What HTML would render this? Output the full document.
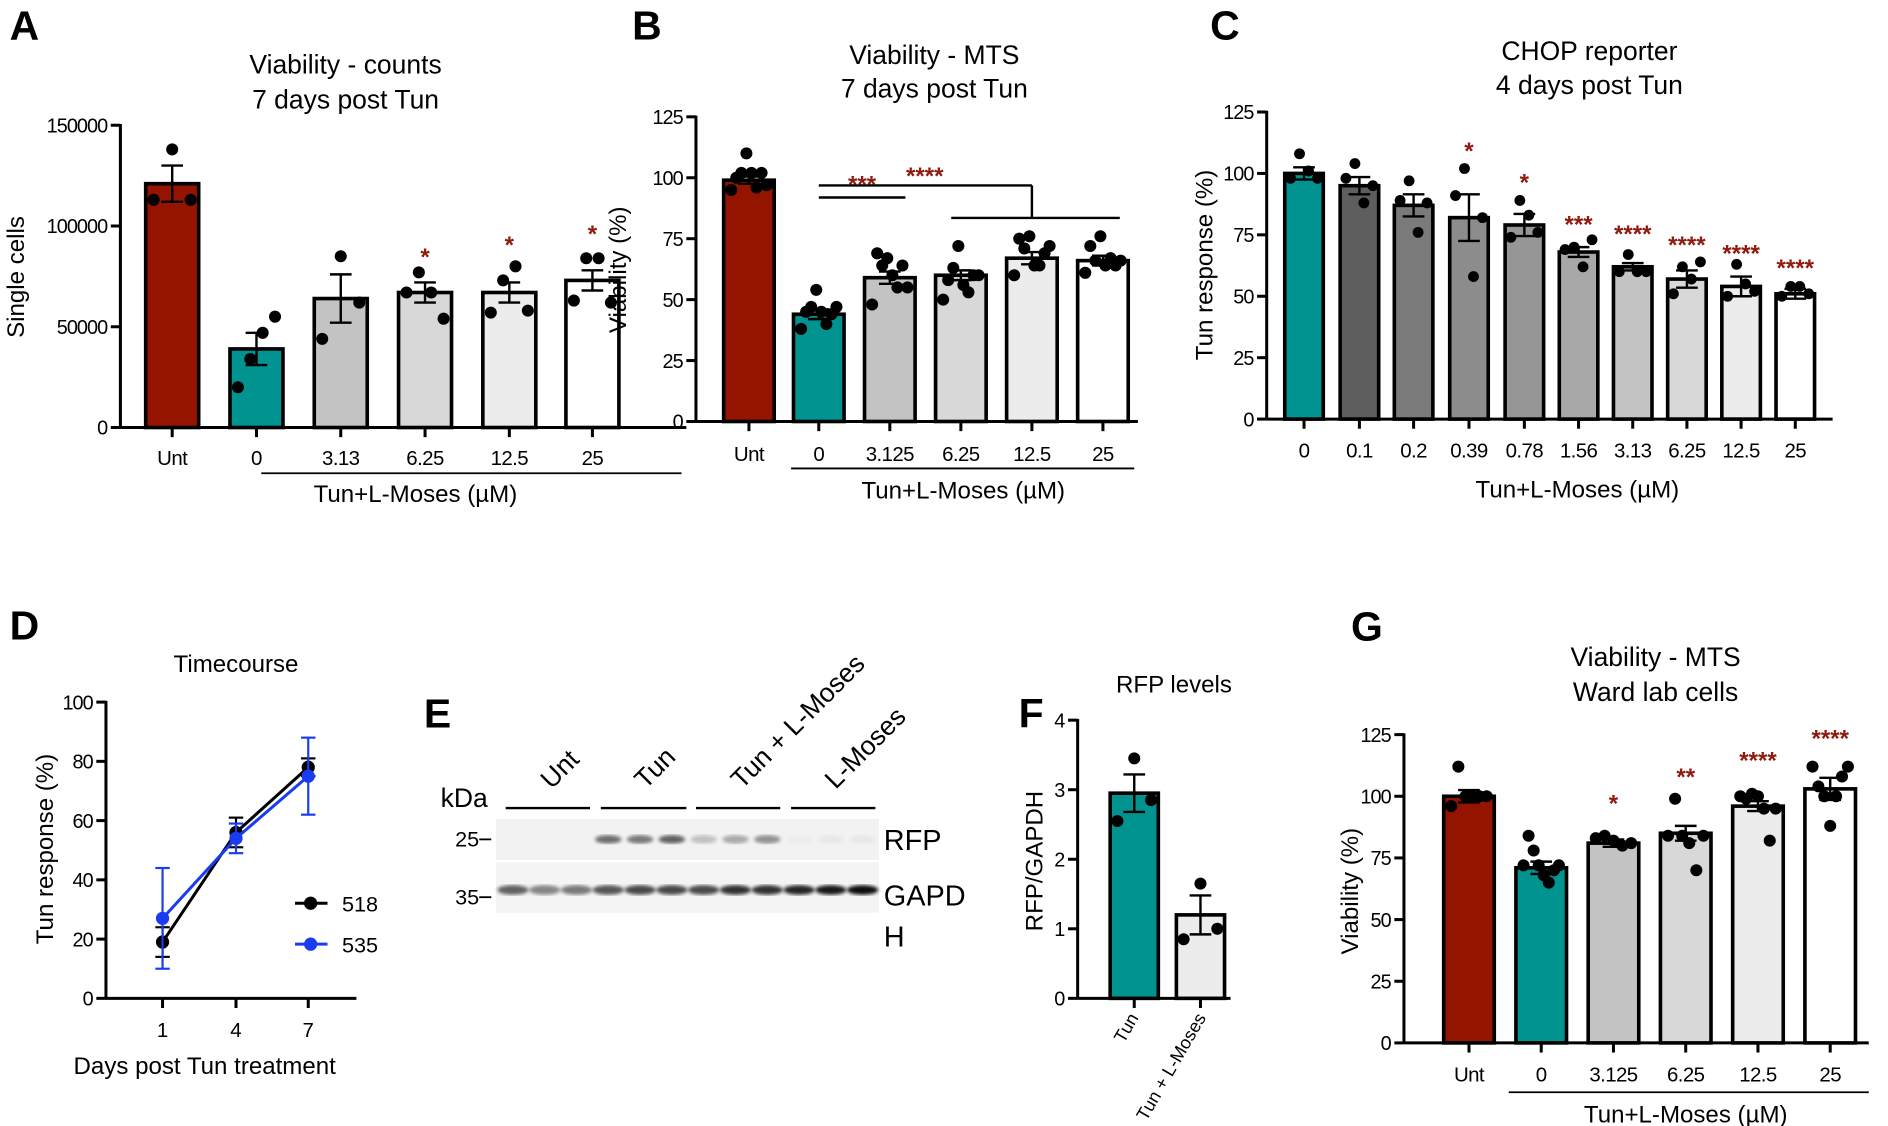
<!DOCTYPE html>
<html><head><meta charset="utf-8">
<style>
html,body{margin:0;padding:0;background:#fff;}
svg{display:block;font-family:"Liberation Sans",Arial,sans-serif;}
</style></head>
<body>
<svg id="s" width="1888" height="1126" viewBox="0 0 1568 935" preserveAspectRatio="none" xmlns="http://www.w3.org/2000/svg">
<defs><filter id="bl"><feGaussianBlur stdDeviation="1.6"/></filter></defs>
<rect width="1568" height="935" fill="#fff"/>
</svg>
<script>
const s=document.getElementById('s');let h='';
const RED='#941400',TEAL='#00938f',SR='#8f1a0e';
function t(x,y,str,sz,anc,extra){h+=`<text x="${x}" y="${y}" font-size="${sz}" text-anchor="${anc||'middle'}" ${extra||''}>${str}</text>`;}
function L(x1,y1,x2,y2,w,c){h+=`<line x1="${x1}" y1="${y1}" x2="${x2}" y2="${y2}" stroke="${c||'#000'}" stroke-width="${w||2}"/>`;}
function dot(x,y,r,c){h+=`<circle cx="${x}" cy="${y}" r="${r||5}" fill="${c||'#000'}"/>`;}
function yaxis(x,y0,yTop,ticks,vmax){
  L(x,y0,x,yTop-1,2.5);
  ticks.forEach(v=>{const y=y0-(y0-yTop)*v/vmax;L(x-8,y,x,y,2.5);t(x-11,y+6,v,16.5,'end','letter-spacing="-0.8"');});
}
function bars(o){
  const sc=v=>o.y0-(o.y0-o.yTop)*v/o.vmax;
  L(o.ax,o.y0,o.xend,o.y0,2.5);
  o.c.forEach((cx,i)=>{
    const v=o.v[i],y=sc(v),w=o.bw;
    h+=`<rect x="${cx-w/2}" y="${y}" width="${w}" height="${o.y0-y}" fill="${o.col[i]}" stroke="#000" stroke-width="3"/>`;
    L(cx,o.y0,cx,o.y0+8,2.5);
    t(cx,o.ly,o.lab[i],17,'middle','letter-spacing="-0.5"');
    (o.pts[i]||[]).forEach((p,j,a)=>{const n=a.length;const dx=n>1?(j-(n-1)/2)*(w*0.7/(n-1)):0;dot(cx+dx,sc(p),o.r||5);});
    const e=o.e[i];L(cx,sc(v-e),cx,sc(v+e),2);L(cx-9,sc(v+e),cx+9,sc(v+e),2);L(cx-9,sc(v-e),cx+9,sc(v-e),2);
    if(o.st&&o.st[i]){t(cx,o.sty?o.sty[i]:sc(Math.max(...o.pts[i]))-10,o.st[i],20,'middle',`fill="${SR}" font-weight="bold"`);}
  });
}
function letter(x,y,c){t(x,y,c,34,'start','font-weight="bold"');}
function ylab(x,y,str){h+=`<text x="${x}" y="${y}" font-size="20" text-anchor="middle" transform="rotate(-90 ${x} ${y})">${str}</text>`;}

// Panel A
letter(8,33,'A');
t(287,61,'Viability - counts',22);t(287,90,'7 days post Tun',22);
ylab(20,230,'Single cells');
yaxis(100,355,104,[0,50000,100000,150000],150000);
bars({ax:100,xend:570,y0:355,yTop:104,vmax:150000,bw:44,ly:386,
 c:[143,213,283,353,423,492],v:[121000,39000,64000,67000,67000,73000],
 e:[9000,8000,12000,5000,5000,5000],
 col:[RED,TEAL,'#c3c3c3','#d8d8d8','#ececec','#fff'],
 lab:['Unt','0','3.13','6.25','12.5','25'],
 pts:[[113000,138000,113000],[20000,34000,47000,55000],[44000,85000,62000],[67000,77000,67000,54000],[57000,73000,80000,58000],[63000,84000,84000,62000]],
 st:[0,0,0,'*','*','*'],sty:[0,0,0,220,210,201]});
L(217,393,566,393,1.5);t(345,417,'Tun+L-Moses (µM)',20);

// Panel B
letter(525,33,'B');
t(776,53,'Viability - MTS',22);t(776,81,'7 days post Tun',22);
ylab(520,224,'Viability (%)');
yaxis(578,350,97,[0,25,50,75,100,125],125);
bars({ax:578,xend:945,y0:350,yTop:97,vmax:125,bw:42,ly:383,
 c:[622,680,739,798,857,916],v:[99,44,59,60,67,66],e:[1.5,2,2.5,2,2.5,2],
 col:[RED,TEAL,'#c3c3c3','#d8d8d8','#ececec','#fff'],
 lab:['Unt','0','3.125','6.25','12.5','25'],
 pts:[[95,100,102,110,102,96,102,97],[38,45,47,54,45,40,44,47],[48,69,64,67,60,55,64,55],[50,58,63,72,56,53,60,60],[60,75,71,76,64,64,69,72],[61,72,66,76,64,67,64,66]]});
L(680,164,752,164,2);t(716,160,'***',20,'middle',`fill="${SR}" font-weight="bold"`);
L(680,154,857,154,2);L(857,154,857,181,2);L(790,181,930,181,2);t(768,153,'****',20,'middle',`fill="${SR}" font-weight="bold"`);
L(657,389,942,389,1.5);t(800,414,'Tun+L-Moses (µM)',20);

// Panel C
letter(1005,33,'C');
t(1320,50,'CHOP reporter',22);t(1320,78,'4 days post Tun',22);
ylab(1007,220,'Tun response (%)');
yaxis(1052,348,93,[0,25,50,75,100,125],125);
bars({ax:1052,xend:1522,y0:348,yTop:93,vmax:125,bw:32,ly:380,r:4.5,
 c:[1083,1129,1174,1220,1266,1311,1356,1401,1446,1491],
 v:[100,95,87,82,79,68,62,57,54,51],e:[2.5,3.5,4.5,9.5,4.5,2,1.5,3.5,4,2],
 col:[TEAL,'#5e5e5e','#7a7a7a','#8c8c8c','#969696','#a8a8a8','#c4c4c4','#d8d8d8','#ececec','#fff'],
 lab:['0','0.1','0.2','0.39','0.78','1.56','3.13','6.25','12.5','25'],
 pts:[[98,108,101,98],[98,104,88,95],[89,97,76,88],[91,102,58,82],[74,89,83,76],[69,70,62,73],[60,67,60,60],[51,62,57,64],[50,63,55,52],[50,54,54,51]],
 st:[0,0,0,'*','*','***','****','****','****','****'],sty:[0,0,0,132,158,193,201,210,217,229]});
t(1310,413,'Tun+L-Moses (µM)',20);

// Panel D
letter(8,531,'D');
t(196,558,'Timecourse',20);
ylab(44,705,'Tun response (%)');
(function(){
 const ax=88,y0=829,yT=583,sc=v=>y0-(y0-yT)*v/100,xs=[135,196,256];
 L(ax,y0,ax,yT-1,2.5);[0,20,40,60,80,100].forEach(v=>{L(ax-8,sc(v),ax,sc(v),2.5);t(ax-11,sc(v)+6,v,16.5,'end','letter-spacing="-0.8"');});
 L(ax,y0,296,y0,2.5);
 xs.forEach((x,i)=>{L(x,y0,x,y0+8,2.5);t(x,861,[1,4,7][i],17);});
 const ser=[{c:'#000',v:[19,56,78],e:[5,5,3]},{c:'#1a3cf0',v:[27,54,75],e:[17,5,13]}];
 ser.forEach(s=>{
  h+=`<polyline points="${xs.map((x,i)=>x+','+sc(s.v[i])).join(' ')}" fill="none" stroke="${s.c}" stroke-width="2.5"/>`;
  xs.forEach((x,i)=>{L(x,sc(s.v[i]-s.e[i]),x,sc(s.v[i]+s.e[i]),1.8,s.c);L(x-6,sc(s.v[i]+s.e[i]),x+6,sc(s.v[i]+s.e[i]),1.8,s.c);L(x-6,sc(s.v[i]-s.e[i]),x+6,sc(s.v[i]-s.e[i]),1.8,s.c);dot(x,sc(s.v[i]),5.5,s.c);});
 });
 L(245,750,272,750,2.5);dot(258,750,5.5);t(284,757,'518',18,'start');
 L(245,784,272,784,2.5,'#1a3cf0');dot(258,784,5.5,'#1a3cf0');t(284,791,'535',18,'start');
 t(170,892,'Days post Tun treatment',20);
})();

// Panel E
letter(352,604,'E');
t(366,670,'kDa',22,'start');
[[420,490],[499,570],[578,648],[657,727]].forEach(a=>L(a[0],671,a[1],671,2));
[['Unt',458,656],['Tun',536,656],['Tun + L-Moses',616,656],['L-Moses',694,656]].forEach(a=>{h+=`<text x="${a[1]}" y="${a[2]}" font-size="22" transform="rotate(-45 ${a[1]} ${a[2]})">${a[0]}</text>`;});
h+=`<rect x="412" y="680" width="318" height="34" fill="#f2f2f2"/><rect x="412" y="716" width="318" height="42" fill="#f4f4f4"/>`;
for(let i=0;i<12;i++){const cx=426+i*26.4;
 const rf=[0,0,0,.55,.5,.6,.2,.3,.4,.02,.04,.04][i];
 if(rf>0.015)h+=`<ellipse cx="${cx}" cy="697" rx="11" ry="3.5" fill="#000" opacity="${rf}" filter="url(#bl)"/>`;
 const g=[.6,.45,.5,.65,.7,.7,.7,.8,.8,.85,.9,.95][i];
 h+=`<ellipse cx="${cx}" cy="739" rx="13" ry="4" fill="#000" opacity="${g}" filter="url(#bl)"/>`;}
t(378,703,'25',18,'start');L(398,697,408,697,1.5);
t(378,751,'35',18,'start');L(398,745,408,745,1.5);
t(734,706,'RFP',24,'start');t(734,752,'GAPD',24,'start');t(734,786,'H',24,'start');

// Panel F
letter(846,604,'F');
t(975,575,'RFP levels',20);
ylab(866,715,'RFP/GAPDH');
yaxis(895,829,598,[0,1,2,3,4],4);
bars({ax:895,xend:1022,y0:829,yTop:598,vmax:4,bw:40,ly:2000,
 c:[942,997],v:[2.95,1.2],e:[.27,.28],col:[TEAL,'#ececec'],lab:['',''],
 pts:[[2.55,3.45,2.85],[0.85,1.65,1.0]]});
h+=`<text x="946" y="845" font-size="15" text-anchor="end" transform="rotate(-60 946 845)">Tun</text>`;
h+=`<text x="1002" y="845" font-size="15" text-anchor="end" transform="rotate(-60 1002 845)">Tun + L-Moses</text>`;

// Panel G
letter(1122,532,'G');
t(1375,553,'Viability - MTS',22);t(1375,582,'Ward lab cells',22);
ylab(1128,740,'Viability (%)');
yaxis(1166,866,610,[0,25,50,75,100,125],125);
bars({ax:1166,xend:1552,y0:866,yTop:610,vmax:125,bw:42,ly:898,
 c:[1220,1280,1340,1400,1460,1520],v:[100,71,81,85,96,103],e:[2.5,2.5,1.5,3,2,4.5],
 col:[RED,TEAL,'#c3c3c3','#d8d8d8','#ececec','#fff'],
 lab:['Unt','0','3.125','6.25','12.5','25'],
 pts:[[96,112,100,100,100,100],[72,84,78,72,68,65,70,72],[83,84,82,80,81],[84,99,84,81,70,84],[100,99,101,100,95,82,95],[112,104,100,88,100,108,112]],
 st:[0,0,'*','**','****','****'],sty:[0,0,674,652,638,620]});
L(1253,907,1552,907,1.5);t(1400,932,'Tun+L-Moses (µM)',20);

s.innerHTML+=h;
</script>
</body></html>
